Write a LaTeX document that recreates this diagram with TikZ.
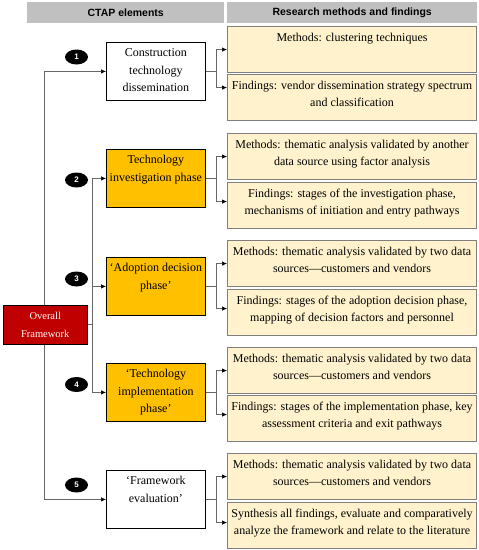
\documentclass[tikz,border=0pt]{standalone}
\usepackage{fontspec}
\setmainfont{Liberation Serif}
\setsansfont{Liberation Sans}
\usepackage{tikz}
\usetikzlibrary{shapes.geometric, arrows.meta, positioning}
\usepackage{xcolor}
\definecolor{HeadGray}{HTML}{C0C0C0}
\definecolor{CellCream}{HTML}{FFF2CC}
\definecolor{CellBorder}{HTML}{7F7F7F}
\definecolor{PhaseOrange}{HTML}{FFC000}
\definecolor{FrameRed}{HTML}{C00000}
\definecolor{LineGray}{HTML}{666666}
% lines stacked from the first baseline down
\newcommand{\toplines}[1]{\begin{tabular}[t]{@{}c@{}}#1\end{tabular}}
\tikzset{
    % Header bars
    headbox/.style={
        rectangle,
        fill=HeadGray,
        anchor=north west,
        minimum height=21pt,
        inner sep=0pt,
        font=\sffamily\bfseries\fontsize{10.5}{12}\selectfont
    },
    % Text sits at the top of a box
    toptext/.style={
        inner xsep=1pt,
        inner ysep=3pt,
        text height=11.5pt,
        font=\fontsize{12}{17.5}\selectfont
    },
    % CTAP element boxes
    elembox/.style={
        rectangle,
        toptext,
        draw=black,
        line width=0.8pt,
        anchor=north west,
        minimum width=99pt,
        minimum height=58pt,
        text depth=40.5pt
    },
    % Method and finding boxes
    findbox/.style={
        rectangle,
        toptext,
        draw=CellBorder,
        line width=1.1pt,
        fill=CellCream,
        anchor=north west,
        minimum width=249pt,
        minimum height=46pt,
        text depth=28.5pt
    },
    numdot/.style={
        ellipse,
        fill=black,
        minimum width=23pt,
        minimum height=15pt,
        inner sep=0pt,
        text=white,
        font=\sffamily\bfseries\fontsize{8}{9}\selectfont
    },
    % Connector styles
    conn/.style={
        draw=LineGray,
        line width=0.7pt
    },
    arr/.style={
        conn,
        -{Latex[length=5pt,width=4.5pt,color=black]}
    }
}

\begin{document}
\begin{tikzpicture}[x=1pt,y=-1pt]
    \useasboundingbox (0,0) rectangle (479,550);

    % Headers
    \node[headbox,minimum width=197pt] (h1) at (27,2) {CTAP elements};
    \node[headbox,minimum width=250pt] (h2) at (227,2) {Research methods and findings};

    % Overall framework
    \node[rectangle,draw=black,line width=0.5pt,fill=FrameRed,text=white,anchor=north west,
          minimum width=84pt,minimum height=39pt,inner sep=0pt,align=center,
          font=\fontsize{10.5}{18}\selectfont] (ov) at (3,305) {Overall\\Framework};

    % CTAP elements
    \node[elembox,fill=white] (c1) at (106,42) {\toplines{Construction\\technology\\dissemination}};
    \node[elembox,fill=PhaseOrange] (c2) at (106,149) {\toplines{Technology\\investigation phase}};
    \node[elembox,fill=PhaseOrange] (c3) at (106,257) {\toplines{‘Adoption decision\\phase’}};
    \node[elembox,fill=PhaseOrange] (c4) at (106,363) {\toplines{‘Technology\\implementation\\phase’}};
    \node[elembox,fill=white] (c5) at (106,470) {\toplines{‘Framework\\evaluation’}};

    % Numbers
    \node[numdot] (n1) at (76.5,57) {1};
    \node[numdot] (n2) at (76.5,180) {2};
    \node[numdot] (n3) at (76.5,279) {3};
    \node[numdot] (n4) at (76.5,384.5) {4};
    \node[numdot] (n5) at (76.5,485) {5};

    % Methods and findings
    \node[findbox] (m1) at (227,26) {\toplines{Methods: clustering techniques}};
    \node[findbox] (f1) at (227,74) {\toplines{Findings: vendor dissemination strategy spectrum\\and classification}};
    \node[findbox] (m2) at (227,133) {\toplines{Methods: thematic analysis validated by another\\data source using factor analysis}};
    \node[findbox] (f2) at (227,182) {\toplines{Findings: stages of the investigation phase,\\mechanisms of initiation and entry pathways}};
    \node[findbox] (m3) at (227,240) {\toplines{Methods: thematic analysis validated by two data\\sources—customers and vendors}};
    \node[findbox] (f3) at (227,289) {\toplines{Findings: stages of the adoption decision phase,\\mapping of decision factors and personnel}};
    \node[findbox] (m4) at (227,347) {\toplines{Methods: thematic analysis validated by two data\\sources—customers and vendors}};
    \node[findbox] (f4) at (227,395) {\toplines{Findings: stages of the implementation phase, key\\assessment criteria and exit pathways}};
    \node[findbox] (m5) at (227,453) {\toplines{Methods: thematic analysis validated by two data\\sources—customers and vendors}};
    \node[findbox] (s5) at (227,502) {\toplines{Synthesis all findings, evaluate and comparatively\\analyze the framework and relate to the literature}};

    % Trunk from the overall framework
    \draw[arr] ([xshift=-1pt]ov.north) |- (c1.west);
    \draw[arr] ([xshift=-1pt]ov.south) |- (c5.west);
    \draw[conn] (ov.east) -- ++(5,0) coordinate (jo);
    \draw[arr] (jo) |- (c2.west);
    \draw[arr] (jo) |- (c3.west);
    \draw[arr] (jo) |- (c4.west);

    % Branches to methods and findings
    \draw[conn] (c1.east) -- ++(11,0) coordinate (j1);
    \draw[arr] (j1) |- (m1.west);
    \draw[arr] (j1) |- ([yshift=10pt]f1.west);
    \draw[conn] (c2.east) -- ++(11,0) coordinate (j2);
    \draw[arr] (j2) |- (m2.west);
    \draw[arr] (j2) |- ([yshift=4pt]f2.west);
    \draw[conn] (c3.east) -- ++(11,0) coordinate (j3);
    \draw[arr] (j3) |- (m3.west);
    \draw[arr] (j3) |- ([yshift=4pt]f3.west);
    \draw[conn] (c4.east) -- ++(11,0) coordinate (j4);
    \draw[arr] (j4) |- (m4.west);
    \draw[arr] (j4) |- ([yshift=4pt]f4.west);
    \draw[conn] (c5.east) -- ++(11,0) coordinate (j5);
    \draw[arr] (j5) |- (m5.west);
    \draw[arr] (j5) |- ([yshift=3pt]s5.west);
\end{tikzpicture}
\end{document}
